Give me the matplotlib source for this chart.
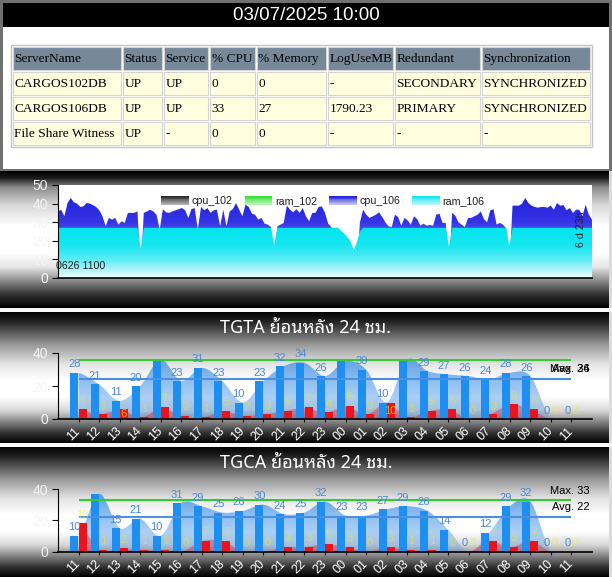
import numpy as np
import matplotlib
matplotlib.use("Agg")
import matplotlib.pyplot as plt
from matplotlib import font_manager as fm
from matplotlib.ft2font import FT2Font
from matplotlib.colors import LinearSegmentedColormap, to_rgb
from matplotlib.patches import Patch, Rectangle
from matplotlib.legend_handler import HandlerBase

# ---------------- data ----------------
report_time = "03/07/2025 10:00"
table_header = ["ServerName", "Status", "Service", "% CPU", "% Memory", "LogUseMB", "Redundant", "Synchronization"]
table_rows = [
    ["CARGOS102DB", "UP", "UP", "0", "0", "-", "SECONDARY", "SYNCHRONIZED"],
    ["CARGOS106DB", "UP", "UP", "33", "27", "1790.23", "PRIMARY", "SYNCHRONIZED"],
    ["File Share Witness", "UP", "-", "0", "0", "-", "-", "-"],
]

legend_names = ["cpu_102", "ram_102", "cpu_106", "ram_106"]
start_label = "0626 1100"
span_label = "6 d 23h"

cpu_106 = [
    35.8, 36.7, 33.2, 40.3, 43, 40.7, 40, 38.2, 38.5, 40.3, 40, 39.2, 38.2,
    36.4, 33.2, 27.8, 32.3, 31.4, 32.3, 28.7, 30.5, 29.6, 35, 35, 35, 35.8,
    5, 35, 35.8, 36.7, 35.8, 34, 26, 37, 35.3, 35, 35.8, 36.4, 37,
    37.6, 36.4, 32.3, 37, 37.6, 26, 38.2, 36.4, 37.6, 35, 36.4, 36.7, 27.8,
    36.7, 27.8, 35.8, 37,
    40.3, 36.7, 33.2, 39.4, 38.2, 34.6, 34, 31.4, 32.3, 29.2, 28.7, 27.4, 5,
    27.8, 28.7, 29.6, 38.9, 36.7, 35.3, 37, 35, 37.6, 33.2, 30.5, 35, 35,
    38.2, 38.5, 35, 29.2, 27.4, 12, 10, 8, 8, 6, 5, 5, 6,
    30, 36.7, 34, 32.3, 33.2, 34, 35.3, 32.8, 29.9, 27.8, 27.4, 34, 32.8,
    28.1, 32.3, 31, 28.7,
    33.2, 31.7, 28.1, 29.2, 28.1, 28.5, 28.1, 34, 34.6, 29.6, 29.6, 5, 35,
    33.5, 29.9, 28.7, 27.4, 32.3, 32.3, 33.2, 34, 35.8, 31.7, 29.9, 36.4, 37,
    28.7, 29.6, 28.7, 26.7, 5, 38.9, 38.9, 38.9, 40, 43, 40.3, 38.9, 38.2,
    37.8, 38.2, 38.2, 37.8, 38.9, 36.7, 40.3, 38.9, 39.2, 36.4, 37.6, 35, 36.7,
    36.7, 33.2, 39.4, 34, 31.4,
]
ram_106 = [
    27, 27, 27, 27, 27, 27, 27, 27, 27, 27, 27, 27, 27,
    27, 27, 27, 27, 27, 27, 27, 27, 27, 27, 27, 27, 27,
    16, 27, 27, 27, 27, 27, 27, 27, 27, 27, 27, 27, 27,
    27, 27, 27, 27, 27, 27, 27, 27, 27, 27, 27, 27, 27,
    27, 27, 27, 27, 27, 27, 27, 27, 27, 27, 27, 27, 27,
    27, 27, 27, 18, 27, 27, 27, 27, 27, 27, 27, 27, 27,
    27, 27, 27, 27, 27, 27, 27, 27, 27, 27, 27, 25.5, 24,
    22, 20, 15, 19, 25, 27, 27, 27, 27, 27, 27, 27, 27,
    27, 27, 27, 27, 27, 27, 27, 27, 27, 27, 27, 27, 27,
    27, 27, 27, 27, 27, 27, 17, 27, 27, 27, 27, 27, 27,
    27, 27, 27, 27, 27, 27, 27, 27, 27, 27, 27, 27, 17,
    27, 27, 27, 27, 27, 27, 27, 27, 27, 27, 27, 27, 27,
    27, 27, 27, 27, 27, 27, 27, 27, 27, 27, 27, 27, 27,
]

hours = ["11", "12", "13", "14", "15", "16", "17", "18", "19", "20", "21", "22", "23",
         "00", "01", "02", "03", "04", "05", "06", "07", "08", "09", "10", "11"]

tgta_title = "TGTA ย้อนหลัง 24 ชม."
tgta_blue = [28, 21, 11, 20, 36, 23, 31, 23, 10, 23, 32, 34, 26, 35, 30, 10, 36, 29, 27, 26, 24, 28, 26, 0, 0]
tgta_red = [6, 3, 6, 1, 7, 2, 1, 5, 2, 3, 5, 7, 4, 8, 3, 10, 1, 5, 6, 0, 3, 9, 6, 0, 0]
tgta_max, tgta_avg = 36, 24

tgca_title = "TGCA ย้อนหลัง 24 ชม."
tgca_blue = [10, 37, 15, 21, 10, 31, 29, 25, 26, 30, 24, 25, 32, 23, 23, 27, 29, 26, 14, 0, 12, 29, 32, 0, 0]
tgca_red = [18, 1, 2, 1, 1, 0, 7, 7, 0, 0, 3, 3, 5, 3, 0, 3, 1, 1, 0, 0, 7, 3, 7, 0, 0]
tgca_max, tgca_avg = 33, 22

# ---------------- fonts ----------------
needed = set(tgta_title + tgca_title) - {" "}
cands = []
for f in fm.fontManager.ttflist:
    try:
        cm = FT2Font(f.fname).get_charmap()
    except Exception:
        continue
    if 0x0E22 in cm:
        cands.append((f.name, cm))


def rank(name):
    for k, pref in enumerate(["Noto Sans Thai", "Noto Sans", "Loma", "Garuda", "Tlwg", "Sarabun"]):
        if name.startswith(pref):
            return k
    return 99


cands.sort(key=lambda c: rank(c[0]))
full = [c[0] for c in cands if all(ord(ch) in c[1] for ch in needed)]
thai = cands[0][0] if cands else None

plt.rcParams["font.family"] = ["Liberation Sans", "DejaVu Sans"]

W, H = 612, 577
fig = plt.figure(figsize=(W / 100, H / 100), dpi=100)


def rect(x0, y0, x1, y1):
    return [x0 / W, 1 - y1 / H, (x1 - x0) / W, (y1 - y0) / H]


# ---------------- background ----------------
bg = np.ones((H, W, 3))
bg[0:171, :, :] = 0.44
bg[27:169, 3:609, :] = 1.0
bg[3:27, 3:609, :] = 0.0


def panel_bg(y0, y1, st, sv):
    h = y1 - y0
    t = (np.arange(h) + 0.5) / h
    v = np.interp(t, st, sv)
    bg[y0:y1, 0:609, :] = v[:, None, None]
    bg[y0:y1, 609:612, :] = 0.86


panel_bg(171, 308, [0, 0.05, 0.12, 0.25, 0.4, 0.6, 0.7, 0.8, 0.9, 1],
         [0, 0.1, 0.55, 0.85, 1, 1, 0.9, 0.55, 0.2, 0])
bg[308:312, :, :] = 0.97
p2s = [0, 0.08, 0.25, 0.4, 0.52, 0.65, 0.75, 0.83, 0.92, 1]
p2v = [0, 0.15, 0.6, 0.9, 1, 1, 0.85, 0.55, 0.2, 0]
panel_bg(312, 443, p2s, p2v)
bg[443:447, :, :] = 0.97
panel_bg(447, 577, p2s, p2v)

axbg = fig.add_axes([0, 0, 1, 1], zorder=-5)
axbg.imshow(bg, extent=[0, W, H, 0], interpolation="nearest", aspect="auto")
axbg.set_xlim(0, W)
axbg.set_ylim(H, 0)
axbg.axis("off")

axbg.text(306, 15, report_time, color="white", fontsize=13.5, ha="center", va="center")

# table
col_x = [12, 122, 163, 209, 256, 327, 394, 481, 591]
row_y = [46, 71, 96, 121, 146]
axbg.add_patch(Rectangle((11, 45), 581, 102, fill=False, edgecolor="#c4c4c4", lw=1))
all_rows = [table_header] + table_rows
for r, row in enumerate(all_rows):
    for c, txt in enumerate(row):
        x0, x1 = col_x[c], col_x[c + 1]
        y0, y1 = row_y[r], row_y[r + 1]
        fc = "#778899" if r == 0 else "#FFFFE0"
        axbg.add_patch(Rectangle((x0 + 1, y0 + 1), x1 - x0 - 2, y1 - y0 - 2,
                                 facecolor=fc, edgecolor="#d4d4d4", lw=0.8))
        axbg.text(x0 + 2.5, (y0 + y1) / 2 + 0.5, txt, fontsize=9.6, family=["Liberation Serif"],
                  ha="left", va="center", color="black")


def panel_title(s, y):
    """Title mixing Latin and Thai script."""
    if full:
        axbg.text(306, y, s, color="white", fontsize=13, ha="center", va="center", family=[full[0]])
        return
    runs = []
    for ch in s:
        use_thai = thai is not None and (0x0E00 <= ord(ch) <= 0x0E7F)
        if runs and runs[-1][0] == use_thai:
            runs[-1][1] += ch
        else:
            runs.append([use_thai, ch])
    renderer = fig.canvas.get_renderer()
    arts = []
    for use_thai, txt in runs:
        fam = [thai] if use_thai else ["Liberation Sans"]
        a = axbg.text(0, y + 5, txt, color="white", fontsize=13, ha="left", va="baseline", family=fam)
        arts.append(a)
    widths = [a.get_window_extent(renderer).width for a in arts]
    x = 306 - sum(widths) / 2
    for a, w in zip(arts, widths):
        a.set_x(x)
        x += w


panel_title(tgta_title, 328)
panel_title(tgca_title, 463)


# ---------------- panel 1 ----------------
class GradPatch(Patch):
    def __init__(self, c_top, c_bot, **kw):
        super().__init__(**kw)
        self.c_top = c_top
        self.c_bot = c_bot


class GradHandler(HandlerBase):
    def create_artists(self, legend, orig_handle, xdescent, ydescent, width, height, fontsize, trans):
        n = 10
        c1 = np.array(to_rgb(orig_handle.c_top))
        c2 = np.array(to_rgb(orig_handle.c_bot))
        arts = []
        for k in range(n):
            f = k / (n - 1)
            col = c1 * (1 - f) + c2 * f
            y = -ydescent + height * (1 - (k + 1) / n)
            arts.append(Rectangle((-xdescent, y), width, height / n * 1.05, facecolor=col,
                                  edgecolor="none", transform=trans))
        return arts


ax1 = fig.add_axes(rect(58, 185, 592, 278))
ax1.set_facecolor("white")
n = len(cpu_106)
t = np.arange(n)
cpu_cmap = LinearSegmentedColormap.from_list("cpu", [(0, "#ffffff"), (0.4, "#6a6af0"), (0.6, "#3535e6"), (1, "#1a1ad2")])
ram_cmap = LinearSegmentedColormap.from_list("ram", [(0, "#f2feff"), (0.06, "#c4f6fa"), (0.2, "#5aecf4"),
                                                     (0.35, "#18e6f0"), (0.54, "#00e4ee"), (1, "#00e0ec")])
gv = np.linspace(0, 1, 256).reshape(-1, 1)
for vals, cm, z in [(cpu_106, cpu_cmap, 1), (ram_106, ram_cmap, 2)]:
    poly = ax1.fill_between(t, 0, vals, facecolor="none", edgecolor="none", zorder=z)
    im = ax1.imshow(gv, cmap=cm, extent=[0, n - 1, 0, 50], origin="lower", aspect="auto",
                    vmin=0, vmax=1, zorder=z, interpolation="bilinear")
    im.set_clip_path(poly.get_paths()[0], transform=ax1.transData)
ax1.set_xlim(0, n - 1)
ax1.set_ylim(0, 50)
ax1.set_aspect("auto")
ax1.set_xticks([])
ax1.set_yticks(range(0, 51, 10))
ax1.tick_params(axis="y", colors="black", labelcolor="#f4f4f4", labelsize=10, length=4, pad=3)
for s in ["top", "right"]:
    ax1.spines[s].set_visible(False)
ax1.spines["left"].set_color("black")
ax1.spines["bottom"].set_color("black")
ax1.spines["bottom"].set_linewidth(1.2)

handles = [GradPatch("#2a2a2a", "#b4b4b4"), GradPatch("#38e038", "#b8f4b8"),
           GradPatch("#2020d8", "#c4c4f8"), GradPatch("#12e4f0", "#b4f6fa")]
leg = ax1.legend(handles, legend_names, handler_map={GradPatch: GradHandler()}, loc="center",
                 bbox_to_anchor=(0.496, 0.828), ncol=4, frameon=False, fontsize=7.7,
                 handlelength=2.6, handleheight=0.9, handletextpad=0.25, columnspacing=1.1, borderpad=0.1)
for tx in leg.get_texts():
    tx.set_color("#202020")
leg.set_zorder(5)
ax1.text(-0.004, 0.13, start_label, transform=ax1.transAxes, fontsize=7.7, ha="left", va="center",
         color="#202020", zorder=6)
ax1.text(0.979, 0.527, span_label, transform=ax1.transAxes, fontsize=7.7, ha="center", va="center",
         rotation=90, color="#202020", zorder=6)


# ---------------- bar panels ----------------
def smooth(xs, ys, k=16):
    xs = np.asarray(xs, float)
    ys = np.asarray(ys, float)
    p = np.concatenate([[ys[0]], ys, [ys[-1]]])
    ox, oy = [], []
    tt = np.linspace(0, 1, k, endpoint=False)
    for i in range(len(ys) - 1):
        p0, p1, p2, p3 = p[i], p[i + 1], p[i + 2], p[i + 3]
        y = 0.5 * ((2 * p1) + (-p0 + p2) * tt + (2 * p0 - 5 * p1 + 4 * p2 - p3) * tt ** 2
                   + (-p0 + 3 * p1 - 3 * p2 + p3) * tt ** 3)
        ox.append(xs[i] + (xs[i + 1] - xs[i]) * tt)
        oy.append(y)
    ox.append([xs[-1]])
    oy.append([ys[-1]])
    return np.concatenate(ox), np.clip(np.concatenate(oy), 0, None)


def bar_panel(ax, blue, red, mx, avg, label_max, red_inside, max_at_avg):
    x = np.arange(len(hours))
    ytop = 48
    xs, ys = smooth(x, blue)
    poly = ax.fill_between(xs, 0, ys, facecolor="none", edgecolor="none", zorder=1)
    grad = np.zeros((200, 1, 4))
    grad[..., :3] = to_rgb("#3a8ee6")
    grad[:, 0, 3] = np.linspace(0.25, 0.8, 200)
    im = ax.imshow(grad, extent=[-1, 25, 0, 40], origin="lower", aspect="auto", zorder=1,
                   interpolation="bilinear")
    im.set_clip_path(poly.get_paths()[0], transform=ax.transData)
    xr, yr = smooth(x, red)
    ax.fill_between(xr, 0, yr, color="#e5203c", alpha=0.4, lw=0, zorder=1.5)
    ax.bar(x - 0.2, blue, 0.39, color="#1e8ff0", zorder=2)
    ax.bar(x + 0.2, red, 0.39, color="#e8141e", zorder=2)
    ax.hlines(mx, 0, 24, color="#33cc33", lw=1.5, zorder=3)
    ax.hlines(avg, 0, 24, color="#4a90e2", lw=1.5, zorder=3)
    for i, v in enumerate(blue):
        if v <= label_max:
            ax.annotate(str(v), (i - 0.2, v), xytext=(0, 2.5), textcoords="offset points",
                        ha="center", va="bottom", fontsize=8, color="#4d87d6", zorder=4)
    for i, v in enumerate(red):
        if i in red_inside:
            ax.text(i + 0.2, v / 2, str(v), ha="center", va="center", fontsize=8,
                    color="#ffe000", alpha=0.7, zorder=4)
        else:
            ax.annotate(str(v), (i + 0.2, v), xytext=(0, 2.5), textcoords="offset points",
                        ha="center", va="bottom", fontsize=8, color="#f4f000", alpha=0.5, zorder=4)
    max_y = avg if max_at_avg else mx
    max_off = 7.2 if max_at_avg else 6.5
    ax.annotate(f"Avg. {avg}", (1.0, avg), xycoords=("axes fraction", "data"), xytext=(-2, 7.2),
                textcoords="offset points", ha="right", va="center", fontsize=8, color="black", zorder=5)
    ax.annotate(f"Max. {mx}", (1.0, max_y), xycoords=("axes fraction", "data"), xytext=(-2, max_off),
                textcoords="offset points", ha="right", va="center", fontsize=8, color="black", zorder=5)
    ax.set_xlim(-1, 25)
    ax.set_ylim(0, ytop)
    ax.set_aspect("auto")
    ax.set_facecolor("none")
    ax.set_yticks([0, 20, 40])
    ax.tick_params(axis="y", colors="black", labelcolor="#f4f4f4", labelsize=10, length=4.5, pad=2.5)
    ax.set_xticks(x)
    ax.set_xticklabels(hours, rotation=45, ha="right", va="center", rotation_mode="anchor",
                       color="white", fontsize=9)
    ax.tick_params(axis="x", colors="black", labelcolor="white", length=2, pad=5.5)
    for s in ["top", "right"]:
        ax.spines[s].set_visible(False)
    ax.spines["left"].set_bounds(0, 40)
    ax.spines["left"].set_color("black")
    ax.spines["bottom"].set_color("black")
    ax.spines["bottom"].set_linewidth(1.2)


ax2 = fig.add_axes(rect(58, 419 - 48 * 1.65, 592, 419))
bar_panel(ax2, tgta_blue, tgta_red, tgta_max, tgta_avg, 34, [2, 15], True)
ax3 = fig.add_axes(rect(58, 551.5 - 48 * 1.56, 592, 551.5))
bar_panel(ax3, tgca_blue, tgca_red, tgca_max, tgca_avg, 35, [], False)

fig.savefig("out.png", dpi=100)
